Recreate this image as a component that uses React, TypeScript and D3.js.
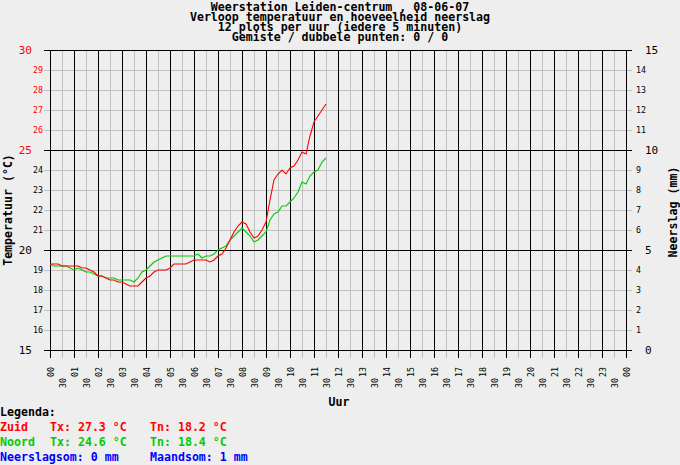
import { useMemo } from "react";
import * as d3 from "d3";

const WIDTH = 680;
const HEIGHT = 465;
const PLOT = { left: 50, right: 626, top: 50, bottom: 350 };
const MONO = "'DejaVu Sans Mono', monospace";

const BG = "#eeeeee";
const GRID = "#c0c0c0";
const RED = "#ff0000";
const GREEN = "#00cc00";
const BLUE = "#0000ff";

const TITLE_LINES = [
  "Weerstation Leiden-centrum , 08-06-07",
  "Verloop temperatuur en hoeveelheid neerslag",
  "12 plots per uur (iedere 5 minuten)",
  "Gemiste / dubbele punten: 0 / 0",
];

const HOUR_LABELS = [
  "00", "01", "02", "03", "04", "05", "06", "07", "08", "09", "10", "11",
  "12", "13", "14", "15", "16", "17", "18", "19", "20", "21", "22", "23", "00",
];
const HALF_LABEL = "30";

const TEMP_TICKS = [15, 16, 17, 18, 19, 20, 21, 22, 23, 24, 25, 26, 27, 28, 29, 30];
const TEMP_MAJOR = [15, 20, 25, 30];
const RAIN_TICKS = [0, 1, 2, 3, 4, 5, 6, 7, 8, 9, 10, 11, 12, 13, 14, 15];
const RAIN_MAJOR = [0, 5, 10, 15];

// one reading every 10 minutes from 00:00 to 11:30
const STEP_MINUTES = 10;
const ZUID = [
  19.3, 19.3, 19.3, 19.2, 19.2, 19.2, 19.2, 19.2, 19.1, 19.1, 19.0, 18.9,
  18.7, 18.7, 18.6, 18.5, 18.5, 18.4, 18.4, 18.3, 18.2, 18.2, 18.2, 18.4,
  18.6, 18.7, 18.9, 19.0, 19.0, 19.0, 19.1, 19.3, 19.3, 19.3, 19.3, 19.4,
  19.5, 19.5, 19.5, 19.5, 19.4, 19.5, 19.7, 19.8, 20.1, 20.5, 20.9, 21.2,
  21.4, 21.3, 20.9, 20.6, 20.7, 21.0, 21.4, 22.5, 23.5, 23.8, 24.0, 23.8,
  24.1, 24.2, 24.5, 24.9, 24.8, 25.7, 26.4, 26.7, 27.0, 27.3,
];
const NOORD = [
  19.3, 19.2, 19.2, 19.2, 19.2, 19.1, 19.0, 19.1, 19.0, 18.9, 18.9, 18.8,
  18.7, 18.7, 18.6, 18.6, 18.6, 18.5, 18.5, 18.5, 18.5, 18.4, 18.6, 18.9,
  19.0, 19.2, 19.4, 19.5, 19.6, 19.7, 19.7, 19.7, 19.7, 19.7, 19.7, 19.7,
  19.7, 19.8, 19.6, 19.7, 19.7, 19.8, 20.0, 20.1, 20.2, 20.5, 20.7, 20.9,
  21.1, 20.9, 20.7, 20.4, 20.5, 20.7, 20.9, 21.5, 21.8, 21.9, 22.2, 22.2,
  22.4, 22.6, 22.9, 23.4, 23.3, 23.7, 23.9, 24.0, 24.4, 24.6,
];

const LEGEND_ROWS = [
  { color: RED, cells: ["Zuid", "Tx: 27.3 °C", "Tn: 18.2 °C"] },
  { color: GREEN, cells: ["Noord", "Tx: 24.6 °C", "Tn: 18.4 °C"] },
  { color: BLUE, cells: ["Neerslagsom: 0 mm", "", "Maandsom: 1 mm"] },
];
const LEGEND_COLS = [0, 50, 150];

export default function App() {
  const xScale = useMemo(
    () => d3.scaleLinear().domain([0, 24]).range([PLOT.left, PLOT.right]),
    []
  );
  const yScale = useMemo(
    () => d3.scaleLinear().domain([15, 30]).range([PLOT.bottom, PLOT.top]),
    []
  );
  const rainScale = useMemo(
    () => d3.scaleLinear().domain([0, 15]).range([PLOT.bottom, PLOT.top]),
    []
  );

  const line = d3
    .line<number>()
    .x((_, i) => xScale((i * STEP_MINUTES) / 60))
    .y((d) => yScale(d));

  const hours = HOUR_LABELS.map((_, i) => i);
  const halves = hours.slice(0, -1).map((h) => h + 0.5);

  const px = (v: number) => Math.round(v) + 0.5;

  return (
    <svg
      width={WIDTH}
      height={HEIGHT}
      style={{ position: "absolute", left: 0, top: 0 }}
      fontFamily={MONO}
    >
      <rect width={WIDTH} height={HEIGHT} fill={BG} />

      {/* title */}
      <g fontSize={11.6} fontWeight="bold" textAnchor="middle">
        {TITLE_LINES.map((t, i) => (
          <text key={i} x={340} y={11 + i * 10}>
            {t}
          </text>
        ))}
      </g>

      {/* grid: gray first, black on top */}
      <g shapeRendering="crispEdges" strokeWidth={1}>
        {TEMP_TICKS.filter((t) => !TEMP_MAJOR.includes(t)).map((t) => (
          <line key={"hg" + t} x1={PLOT.left - 6} x2={PLOT.right + 6} y1={px(yScale(t))} y2={px(yScale(t))} stroke={GRID} />
        ))}
        {halves.map((h) => (
          <line key={"vg" + h} x1={px(xScale(h))} x2={px(xScale(h))} y1={PLOT.top} y2={PLOT.bottom + 8} stroke={GRID} />
        ))}
        {TEMP_MAJOR.map((t) => (
          <line key={"hb" + t} x1={PLOT.left - 6} x2={PLOT.right + 6} y1={px(yScale(t))} y2={px(yScale(t))} stroke="#000" />
        ))}
        {hours.map((h) => (
          <line key={"vb" + h} x1={px(xScale(h))} x2={px(xScale(h))} y1={PLOT.top} y2={PLOT.bottom + 8} stroke="#000" />
        ))}
      </g>

      {/* series */}
      <path d={line(NOORD) ?? ""} fill="none" stroke={GREEN} strokeWidth={1.1} />
      <path d={line(ZUID) ?? ""} fill="none" stroke={RED} strokeWidth={1.1} />

      {/* left temperature labels */}
      {TEMP_TICKS.map((t) => {
        const major = TEMP_MAJOR.includes(t);
        return (
          <text
            key={"tl" + t}
            x={major ? 32 : 43}
            y={yScale(t)}
            dy="0.36em"
            textAnchor="end"
            fontSize={major ? 11 : 8.3}
            fill={t >= 25 ? RED : "#000"}
          >
            {t}
          </text>
        );
      })}

      {/* right rain labels */}
      {RAIN_TICKS.map((r) => {
        const major = RAIN_MAJOR.includes(r);
        return (
          <text
            key={"rl" + r}
            x={major ? 645 : 636}
            y={rainScale(r)}
            dy="0.36em"
            fontSize={major ? 11 : 8.3}
            fill="#000"
          >
            {r}
          </text>
        );
      })}

      {/* x labels */}
      <g fontSize={8.3}>
        {hours.map((h) => (
          <text key={"xh" + h} transform={`translate(${xScale(h) + 0.5},377) rotate(-90)`} dy="0.36em">
            {HOUR_LABELS[h]}
          </text>
        ))}
        {halves.map((h) => (
          <text key={"xm" + h} transform={`translate(${xScale(h) + 0.5},388) rotate(-90)`} dy="0.36em">
            {HALF_LABEL}
          </text>
        ))}
      </g>

      {/* axis titles */}
      <g fontSize={11.6} fontWeight="bold" textAnchor="middle">
        <text x={339} y={406}>Uur</text>
        <text transform="translate(12,210) rotate(-90)">Temperatuur (°C)</text>
        <text transform="translate(677,212) rotate(-90)">Neerslag (mm)</text>
      </g>

      {/* legend */}
      <g fontSize={11.6} fontWeight="bold">
        <text x={0} y={416}>Legenda:</text>
        {LEGEND_ROWS.map((row, i) => (
          <text key={i} y={431 + i * 15} fill={row.color}>
            {row.cells.map((c, j) =>
              c ? (
                <tspan key={j} x={LEGEND_COLS[j]}>
                  {c}
                </tspan>
              ) : null
            )}
          </text>
        ))}
      </g>
    </svg>
  );
}
